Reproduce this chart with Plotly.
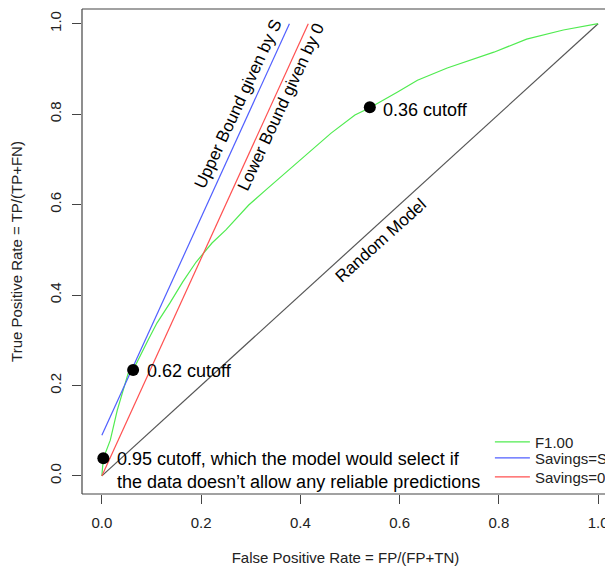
import plotly.graph_objects as go

# ROC curve (F1.00)
roc_fpr = [0.0, 0.003, 0.017, 0.031, 0.053, 0.063, 0.093, 0.111, 0.137, 0.163, 0.190,
           0.222, 0.250, 0.296, 0.330, 0.396, 0.462, 0.510, 0.540, 0.596, 0.636,
           0.696, 0.790, 0.856, 0.930, 1.0]
roc_tpr = [0.0, 0.039, 0.079, 0.145, 0.227, 0.234, 0.300, 0.338, 0.382, 0.429, 0.473,
           0.515, 0.544, 0.599, 0.632, 0.694, 0.758, 0.798, 0.814, 0.849, 0.875,
           0.902, 0.937, 0.966, 0.986, 1.0]

# bounds
upper_x = [0.0, 0.378]
upper_y = [0.09, 1.0]
lower_x = [0.0, 0.416]
lower_y = [0.0, 1.0]
random_x = [0.0, 1.0]
random_y = [0.0, 1.0]

# cutoff points
cut_x = [0.003, 0.063, 0.540]
cut_y = [0.039, 0.234, 0.815]
cut_labels = ["0.95 cutoff, which the model would select if<br>the data doesn’t allow any reliable predictions",
              "0.62 cutoff", "0.36 cutoff"]

ticks = [0.0, 0.2, 0.4, 0.6, 0.8, 1.0]
tick_text = ["0.0", "0.2", "0.4", "0.6", "0.8", "1.0"]

FONT = "Liberation Sans, Arial, Helvetica, sans-serif"
GREEN = "rgb(80,235,80)"
BLUE = "rgb(80,95,255)"
RED = "rgb(255,80,80)"
AXC = "#444444"
TXT = "#222222"

fig = go.Figure()
fig.add_trace(go.Scatter(x=random_x, y=random_y, mode="lines",
                         line=dict(color="#555555", width=1.2), showlegend=False,
                         hoverinfo="skip"))
fig.add_trace(go.Scatter(x=roc_fpr, y=roc_tpr, mode="lines", name="F1.00",
                         line=dict(color=GREEN, width=1.2), legend="legend"))
fig.add_trace(go.Scatter(x=upper_x, y=upper_y, mode="lines", name="Savings=S",
                         line=dict(color=BLUE, width=1.2), legend="legend2"))
fig.add_trace(go.Scatter(x=lower_x, y=lower_y, mode="lines", name="Savings=0",
                         line=dict(color=RED, width=1.2), legend="legend3"))
fig.add_trace(go.Scatter(x=cut_x, y=cut_y, mode="markers", showlegend=False,
                         marker=dict(color="black", size=12)))

# cutoff labels
label_pos = [(0.027, 0.0115), (0.0866, 0.2316), (0.562, 0.809)]
for (lx, ly), txt in zip(label_pos, cut_labels):
    fig.add_annotation(x=lx, y=ly, text=txt, showarrow=False, xanchor="left",
                       yanchor="middle", align="left",
                       font=dict(family=FONT, size=18, color="black"))

# rotated line labels
fig.add_annotation(x=0.274, y=0.822, text="Upper Bound given by S", textangle=-65,
                   showarrow=False, xanchor="center", yanchor="middle",
                   font=dict(family=FONT, size=17, color="black"))
fig.add_annotation(x=0.362, y=0.816, text="Lower Bound given by 0", textangle=-65,
                   showarrow=False, xanchor="center", yanchor="middle",
                   font=dict(family=FONT, size=17, color="black"))
fig.add_annotation(x=0.562, y=0.521, text="Random Model", textangle=-42,
                   showarrow=False, xanchor="center", yanchor="middle",
                   font=dict(family=FONT, size=17, color="black"))

# box (left, top, bottom; right edge lies outside the picture)
for x0, y0, x1, y1 in [(0, 0, 0, 1), (0, 1, 1.05, 1), (0, 0, 1.05, 0)]:
    fig.add_shape(type="line", xref="paper", yref="paper", x0=x0, y0=y0, x1=x1, y1=y1,
                  line=dict(color=AXC, width=1.2))

axis_common = dict(showgrid=False, zeroline=False, showline=False, ticks="outside",
                   ticklen=9, tickwidth=1.2, tickcolor=AXC,
                   tickvals=ticks, ticktext=tick_text,
                   tickfont=dict(family=FONT, size=15, color=TXT))

leg_common = dict(xanchor="left", yanchor="top", bgcolor="rgba(0,0,0,0)",
                  font=dict(family=FONT, size=15, color=TXT), itemwidth=35)

fig.update_layout(
    width=605, height=559,
    margin=dict(l=73.7, r=0, t=1, b=73.2),
    paper_bgcolor="white", plot_bgcolor="white",
    font=dict(family=FONT, size=15, color=TXT),
    xaxis=dict(range=[-0.04, 1.022], ticklabelstandoff=6, **axis_common,
               title=dict(text="False Positive Rate = FP/(FP+TN)",
                          font=dict(family=FONT, size=15, color=TXT), standoff=22)),
    yaxis=dict(range=[-0.04, 1.0325], tickangle=-90, ticklabelstandoff=5, **axis_common,
               title=dict(text="True Positive Rate = TP/(TP+FN)",
                          font=dict(family=FONT, size=15, color=TXT), standoff=20)),
    legend=dict(x=0.774, y=0.1409, **leg_common),
    legend2=dict(x=0.774, y=0.1079, **leg_common),
    legend3=dict(x=0.774, y=0.0687, **leg_common),
)

fig.write_html("out.html")
